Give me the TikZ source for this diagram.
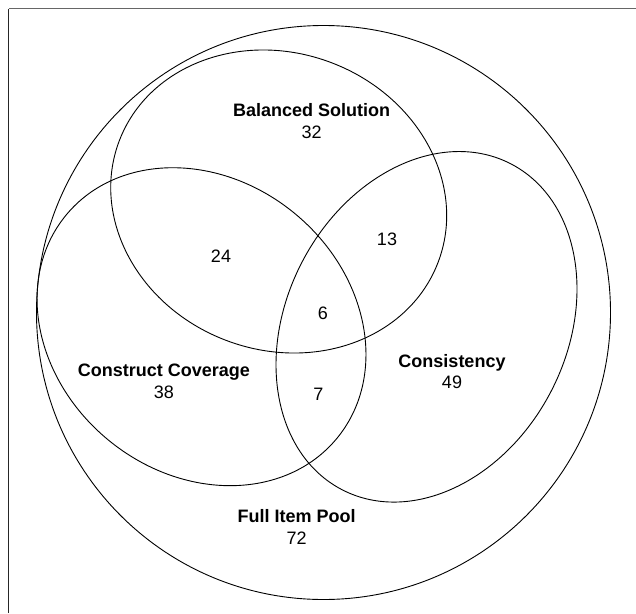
\documentclass[tikz,border=0pt]{standalone}
\usepackage{fontspec}
\setmainfont{Liberation Sans}
\setsansfont{Liberation Sans}
\usetikzlibrary{positioning}

\begin{document}
\begin{tikzpicture}[
    x=1pt, y=1pt,
    font=\sffamily,
    % ---- styles -------------------------------------------------
    setline/.style={draw=black, line width=0.9pt},
    setname/.style={
        align=center, inner sep=0pt, text=black,
        font=\sffamily\bfseries\fontsize{18}{21.6}\selectfont},
    count/.style={
        inner sep=0pt, text=black,
        font=\sffamily\fontsize{18}{21.6}\selectfont},
    frameline/.style={line width=1.4pt},
]
\useasboundingbox (0,0) rectangle (636,-613);

% =================== frame ====================================
\draw[frameline, draw=black!85] (8.5,-613) -- (8.5,-8.5);
\draw[frameline, draw=black!60] (8.5,-8.5) -- (636,-8.5);

% =================== sets =====================================
\coordinate (pool)      at (323.5,-312.5);
\coordinate (balanced)  at (278.7,-201.5);
\coordinate (construct) at (201.5,-326.7);
\coordinate (consist)   at (426.5,-326.8);

\draw[setline] (pool) circle [radius=287];
\draw[setline] (balanced)  ellipse [x radius=170.6, y radius=148.5, rotate=-20.9];
\draw[setline] (construct) ellipse [x radius=175.5, y radius=146.7, rotate=-39.5];
\draw[setline] (consist)   ellipse [x radius=183.5, y radius=140.3, rotate=62.6];

% =================== set names ================================
\node[setname] (balname)   at (311.7,-121.1) {Balanced Solution\\{\mdseries 32}};
\node[setname] (consname)  at (163.8,-381.4) {Construct Coverage\\{\mdseries 38}};
\node[setname] (cstname)   at (452.0,-371.7) {Consistency\\{\mdseries 49}};
\node[setname] (poolname)  at (296.7,-526.7) {Full Item Pool\\{\mdseries 72}};

% =================== overlaps =================================
\node[count] (balcons) at (221.0,-256.5) {24};
\node[count] (balcst)  at (387.0,-239.7) {13};
\node[count] (all)     at (322.8,-313.7) {6};
\node[count] (conscst) at (318.3,-394.7) {7};

\end{tikzpicture}
\end{document}
